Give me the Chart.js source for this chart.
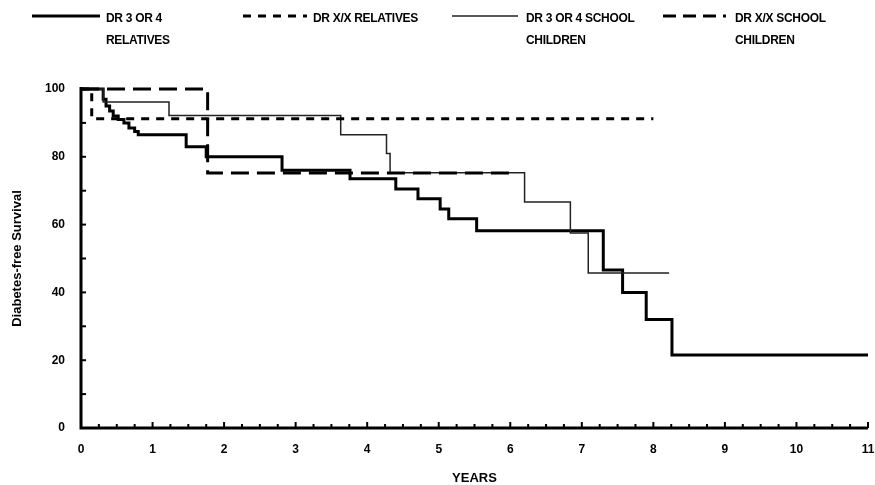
<!DOCTYPE html>
<html>
<head>
<meta charset="utf-8">
<script src="https://cdn.jsdelivr.net/npm/chart.js@4/dist/chart.umd.min.js"></script>
<style>
  html, body { margin: 0; padding: 0; background: #fff; }
  #wrap { position: relative; width: 875px; height: 485px; }
  #chart { position: absolute; left: 0; top: 0; }
  .leg { position: absolute; font: bold 12px "Liberation Sans", Arial, sans-serif; color: #000; line-height: 22px; letter-spacing: -0.3px; }
  .leg svg { position: absolute; }
</style>
</head>
<body>
<div id="wrap">
  <canvas id="chart" width="875" height="485"></canvas>
  <div id="legend"></div>
</div>
<script>
// ---- данные ----
const xTicks = [0, 1, 2, 3, 4, 5, 6, 7, 8, 9, 10, 11];
const yTicks = [0, 20, 40, 60, 80, 100];

// DR 3 OR 4 RELATIVES
const rel34Years = [0, 0.31, 0.35, 0.4, 0.45, 0.52, 0.6, 0.67, 0.75, 0.8, 1.47, 1.75, 2.81, 3.76, 4.4, 4.71, 5.02, 5.14, 5.53, 7.3, 7.57, 7.9, 8.26, 11];
const rel34Surv  = [100, 97, 95, 93.5, 92, 91, 90, 88.5, 87.5, 86.5, 83, 80, 76, 73.5, 70.5, 67.6, 64.6, 61.7, 58.2, 46.6, 40, 32, 21.5, 21.5];

// DR X/X RELATIVES
const relXXYears = [0, 0.15, 8.0];
const relXXSurv  = [100, 91.2, 91.2];

// DR 3 OR 4 SCHOOL CHILDREN
const sch34Years = [0, 0.31, 1.23, 3.63, 4.27, 4.32, 6.2, 6.84, 7.09, 8.22];
const sch34Surv  = [100, 96.2, 92.2, 86.5, 81, 75.3, 66.7, 57.5, 45.7, 45.7];

// DR X/X SCHOOL CHILDREN
const schXXYears = [0, 1.77, 6.0];
const schXXSurv  = [100, 75.2, 75.2];

const legendItems = [
  { lines: ["DR 3 OR 4", "RELATIVES"], x: 32, w: 68, textX: 106, width: 3, dash: [], color: "#000" },
  { lines: ["DR X/X RELATIVES"], x: 243, w: 64, textX: 313, width: 3, dash: [8, 7], color: "#000" },
  { lines: ["DR 3 OR 4 SCHOOL", "CHILDREN"], x: 452, w: 66, textX: 526, width: 1.5, dash: [], color: "#222" },
  { lines: ["DR X/X SCHOOL", "CHILDREN"], x: 663, w: 63, textX: 735, width: 3, dash: [13, 7], color: "#000" },
];

const FONT = '"Liberation Sans", Arial, sans-serif';

function pts(xs, ys) {
  return xs.map((x, i) => ({ x, y: ys[i] }));
}

// Легенда — html поверх канваса
const legendEl = document.getElementById("legend");
for (const it of legendItems) {
  const svg = document.createElementNS("http://www.w3.org/2000/svg", "svg");
  svg.setAttribute("width", it.w);
  svg.setAttribute("height", 8);
  svg.style.left = it.x + "px";
  svg.style.top = "12px";
  svg.style.position = "absolute";
  const ln = document.createElementNS("http://www.w3.org/2000/svg", "line");
  ln.setAttribute("x1", 0); ln.setAttribute("x2", it.w);
  ln.setAttribute("y1", 4); ln.setAttribute("y2", 4);
  ln.setAttribute("stroke", it.color);
  ln.setAttribute("stroke-width", it.width);
  if (it.dash.length) ln.setAttribute("stroke-dasharray", it.dash.join(" "));
  svg.appendChild(ln);
  legendEl.appendChild(svg);

  const div = document.createElement("div");
  div.className = "leg";
  div.style.left = it.textX + "px";
  div.style.top = "7px";
  div.innerHTML = it.lines.join("<br>");
  legendEl.appendChild(div);
}

// Оси и насечки внутрь, как в оригинале
const axesPlugin = {
  id: "axesTicks",
  afterDatasetsDraw(chart) {
    const { ctx, chartArea: a, scales: { x, y } } = chart;
    ctx.save();
    ctx.strokeStyle = "#000";
    ctx.lineCap = "butt";
    // y насечки каждые 10
    ctx.lineWidth = 2;
    for (let v = 10; v <= 100; v += 10) {
      const py = y.getPixelForValue(v);
      ctx.beginPath(); ctx.moveTo(a.left, py); ctx.lineTo(a.left + 5, py); ctx.stroke();
    }
    // x насечки каждые 0.25 года
    for (let v = 0.25; v <= 11.001; v += 0.25) {
      const px = x.getPixelForValue(v);
      const len = Math.abs(v - Math.round(v)) < 0.01 ? 6 : 4;
      ctx.beginPath(); ctx.moveTo(px, a.bottom); ctx.lineTo(px, a.bottom - len); ctx.stroke();
    }
    ctx.lineWidth = 3;
    ctx.beginPath();
    ctx.moveTo(a.left, a.top - 2);
    ctx.lineTo(a.left, a.bottom);
    ctx.lineTo(a.right, a.bottom);
    ctx.stroke();
    ctx.restore();
  }
};

const ds = (label, data, width, dash, color) => ({
  label, data,
  borderColor: color, borderWidth: width, borderDash: dash,
  stepped: "before", pointRadius: 0, fill: false, clip: false,
  borderCapStyle: "butt", borderJoinStyle: "miter",
});

new Chart(document.getElementById("chart").getContext("2d"), {
  type: "line",
  data: {
    datasets: [
      ds("DR X/X RELATIVES", pts(relXXYears, relXXSurv), 3, [8, 7], "#000"),
      ds("DR X/X SCHOOL CHILDREN", pts(schXXYears, schXXSurv), 3, [18, 8], "#000"),
      ds("DR 3 OR 4 SCHOOL CHILDREN", pts(sch34Years, sch34Surv), 1.5, [], "#222"),
      ds("DR 3 OR 4 RELATIVES", pts(rel34Years, rel34Surv), 3, [], "#000"),
    ],
  },
  options: {
    responsive: false,
    animation: false,
    layout: { padding: { left: 0, top: 89, right: 7, bottom: 0 } },
    plugins: { legend: { display: false }, tooltip: { enabled: false } },
    scales: {
      x: {
        type: "linear", min: 0, max: 11,
        afterFit: s => { s.height = 57; s.paddingRight = 0; s.paddingLeft = 0; },
        afterBuildTicks: s => { s.ticks = xTicks.map(v => ({ value: v })); },
        grid: { display: false }, border: { display: false },
        ticks: { padding: 6, color: "#000", font: { family: FONT, size: 12, weight: "bold" }, maxRotation: 0 },
        title: { display: true, text: "YEARS", color: "#000", padding: { top: 0, bottom: -1 }, font: { family: FONT, size: 13, weight: "bold" } },
      },
      y: {
        min: 0, max: 100,
        afterFit: s => { s.width = 81; },
        afterBuildTicks: s => { s.ticks = yTicks.map(v => ({ value: v })); },
        grid: { display: false }, border: { display: false },
        ticks: { padding: 8, color: "#000", font: { family: FONT, size: 12, weight: "bold" } },
        title: { display: true, text: "Diabetes-free Survival", color: "#000", padding: { top: 10, bottom: 0 }, font: { family: FONT, size: 13, weight: "bold" } },
      },
    },
  },
  plugins: [axesPlugin],
});
</script>
</body>
</html>
